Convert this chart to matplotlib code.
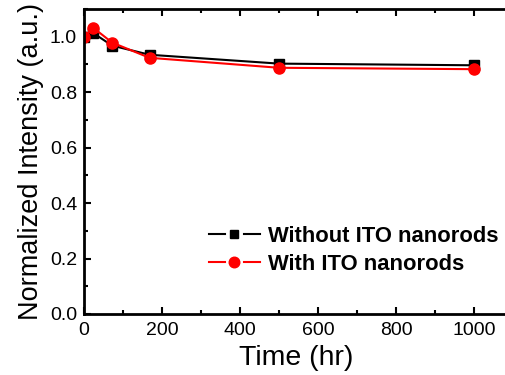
import matplotlib
matplotlib.use("Agg")
import matplotlib.pyplot as plt
from matplotlib.ticker import MultipleLocator
from matplotlib.legend_handler import HandlerBase
from matplotlib.lines import Line2D

plt.rcParams['font.family'] = ['Liberation Sans', 'DejaVu Sans']

time_hr = [0, 24, 72, 168, 500, 1000]
without_ito = [1.0, 1.013, 0.968, 0.935, 0.903, 0.897]
with_ito = [1.0, 1.032, 0.979, 0.924, 0.888, 0.883]
labels = ["Without ITO nanorods", "With ITO nanorods"]


class GapHandler(HandlerBase):
    def create_artists(self, legend, orig, xdescent, ydescent, width, height, fontsize, trans):
        y = height / 2 - ydescent
        g = width * 0.31
        c = orig.get_color()
        lw = orig.get_linewidth()
        seg1 = Line2D([-xdescent, -xdescent + g], [y, y], color=c, lw=lw, transform=trans)
        seg2 = Line2D([-xdescent + width - g, -xdescent + width], [y, y], color=c, lw=lw, transform=trans)
        m = Line2D([-xdescent + width / 2], [y], color=c, marker=orig.get_marker(),
                   markersize=orig.get_markersize() * 0.95, linestyle='none', transform=trans)
        return [seg1, seg2, m]


fig = plt.figure(figsize=(5.05, 3.75), dpi=100)
ax = fig.add_axes([84/505, 1-314/375, (508-84)/505, (314-9)/375])

l1, = ax.plot(time_hr, without_ito, color='black', marker='s', markersize=6.5, lw=1.5, label=labels[0])
l2, = ax.plot(time_hr, with_ito, color='red', marker='o', markersize=8, lw=1.5, label=labels[1])

ax.set_xlim(0, 1087)
ax.set_ylim(0, 1.1)
ax.xaxis.set_major_locator(MultipleLocator(200))
ax.xaxis.set_minor_locator(MultipleLocator(100))
ax.yaxis.set_major_locator(MultipleLocator(0.2))
ax.yaxis.set_minor_locator(MultipleLocator(0.1))
ax.yaxis.set_major_formatter(plt.FormatStrFormatter('%.1f'))
ax.tick_params(which='both', direction='in', top=True, right=False, width=1.5, labelsize=14)
ax.tick_params(which='major', length=5)
ax.tick_params(which='minor', length=3)
ax.tick_params(axis='x', pad=6)
ax.tick_params(axis='y', pad=5)
for s in ['left', 'bottom', 'top']:
    ax.spines[s].set_linewidth(2)
ax.spines['right'].set_visible(False)

ax.set_xlabel("Time (hr)", fontsize=20.5, labelpad=4)
ax.set_ylabel("Normalized Intensity (a.u.)", fontsize=19.5, labelpad=4)

leg = ax.legend(handles=[l1, l2], loc='lower left', bbox_to_anchor=(0.273, 0.10), frameon=False,
                prop={'weight': 'bold', 'size': 15.8}, handlelength=2.35,
                handletextpad=0.35, labelspacing=0.3, borderaxespad=0,
                handler_map={l1: GapHandler(), l2: GapHandler()})

fig.savefig("out.png", dpi=100)
